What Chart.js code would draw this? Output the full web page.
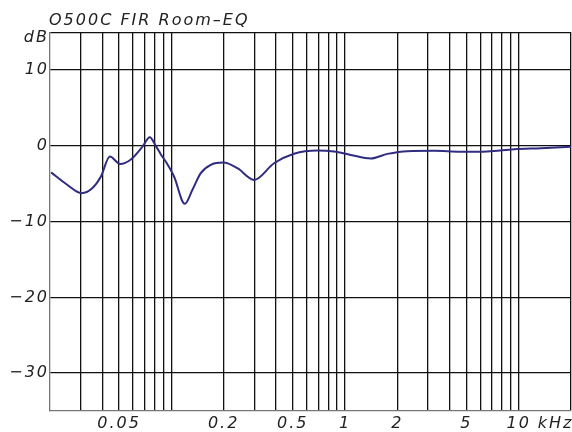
<!DOCTYPE html>
<html>
<head>
<meta charset="utf-8">
<script src="https://cdn.jsdelivr.net/npm/chart.js@4/dist/chart.umd.min.js"></script>
<style>
html,body{margin:0;padding:0;background:#fff;}
#wrap{width:572px;height:432px;position:relative;}
</style>
</head>
<body>
<div id="wrap"><canvas id="c"></canvas></div>
<script>
// ---- data ----
const titleText = "O500C FIR Room\u2013EQ";
const freqKHz = [0.0203, 0.025, 0.0304, 0.035, 0.0393, 0.0442, 0.0507, 0.0584, 0.0682, 0.0751, 0.0813, 0.0868, 0.0941, 0.1036, 0.1194, 0.1322, 0.1476, 0.1685, 0.1995, 0.240, 0.299, 0.390, 0.508, 0.693, 0.864, 1.078, 1.406, 1.754, 2.286, 3.25, 4.63, 6.6, 9.4, 13.4, 20];
const levelDb = [-3.5, -5.1, -6.25, -5.6, -4.05, -1.4, -2.4, -1.8, -0.1, 1.15, 0.0, -1.1, -2.3, -4.05, -7.65, -5.8, -3.6, -2.5, -2.2, -2.95, -4.5, -2.3, -1.05, -0.62, -0.75, -1.2, -1.67, -1.06, -0.7, -0.66, -0.79, -0.75, -0.44, -0.31, -0.13];
const xGridTicks = [0.03,0.04,0.05,0.06,0.07,0.08,0.09,0.1,0.2,0.3,0.4,0.5,0.6,0.7,0.8,0.9,1,2,3,4,5,6,7,8,9,10,16.3,20];
const xTickLabels = {0.05:"0.05",0.2:"0.2",0.5:"0.5",1:"1",2:"2",5:"5",10:"10",16.3:"kHz"};
const yGridTicks = [-30,-20,-10,0,10,14.2,15];
const yTickLabels = {"-30":"\u221230","-20":"\u221220","-10":"\u221210","0":"0","10":"10","14.2":"dB"};
const unitTickX = 16.3, unitTickY = 14.2;

const LS = '2px';
const spacingPlugin = {
  id:'spacing',
  beforeUpdate(chart){ chart.ctx.letterSpacing=LS; },
  beforeLayout(chart){ chart.ctx.letterSpacing=LS; },
  beforeDraw(chart){ chart.ctx.letterSpacing=LS; },
  afterLayout(chart){ if(chart.titleBlock){ chart.titleBlock.left = 49; } }
};

const lblFont = {family:'"DejaVu Sans", sans-serif', size:16, style:'italic'};

new Chart(document.getElementById('c'), {
  type:'line',
  data:{
    datasets:[{
      data: freqKHz.map((f,i)=>({x:f,y:levelDb[i]})),
      borderColor:'#302c80',
      borderWidth:2,
      pointRadius:0,
      fill:false,
      cubicInterpolationMode:'monotone'
    }]
  },
  options:{
    responsive:true,
    maintainAspectRatio:false,
    animation:false,
    devicePixelRatio:1,
    layout:{padding:{left:0,right:1,top:0,bottom:0}},
    plugins:{
      legend:{display:false},
      tooltip:{enabled:false},
      title:{
        display:true, text:titleText, align:'start', color:'#222',
        font:{family:'"DejaVu Sans", sans-serif', size:16, style:'italic', weight:'normal', lineHeight:1.2},
        padding:{top:11,bottom:2}
      }
    },
    scales:{
      x:{
        type:'logarithmic', min:0.02, max:20,
        afterBuildTicks(s){ s.ticks = xGridTicks.map(v=>({value:v})); },
        afterFit(s){ s.height = 21; s.paddingLeft=0; s.paddingRight=0; },
        ticks:{
          autoSkip:false, maxRotation:0, minRotation:0, padding:3, color:'#222', font:lblFont,
          callback(v){ const k = Object.keys(xTickLabels).find(key=>Math.abs(parseFloat(key)-v)<1e-9); return k!==undefined ? xTickLabels[k] : ''; }
        },
        grid:{
          drawTicks:false,
          color(ctx){ return (ctx.tick && Math.abs(ctx.tick.value-unitTickX)<1e-9) ? 'rgba(0,0,0,0)' : '#111'; },
          lineWidth:1.3
        },
        border:{color:'#777', width:1.3}
      },
      y:{
        min:-35, max:15,
        afterBuildTicks(s){ s.ticks = yGridTicks.map(v=>({value:v})); },
        afterFit(s){ s.width = 50; s.paddingTop=0; s.paddingBottom=0; },
        ticks:{
          padding:1, color:'#222', font:lblFont,
          callback(v){ const k = Object.keys(yTickLabels).find(key=>Math.abs(parseFloat(key)-v)<1e-9); return k!==undefined ? yTickLabels[k] : ''; }
        },
        grid:{
          drawTicks:false,
          color(ctx){ return (ctx.tick && Math.abs(ctx.tick.value-unitTickY)<1e-9) ? 'rgba(0,0,0,0)' : '#111'; },
          lineWidth:1.3
        },
        border:{color:'#777', width:1.3}
      }
    }
  },
  plugins:[spacingPlugin]
});
</script>
</body>
</html>
